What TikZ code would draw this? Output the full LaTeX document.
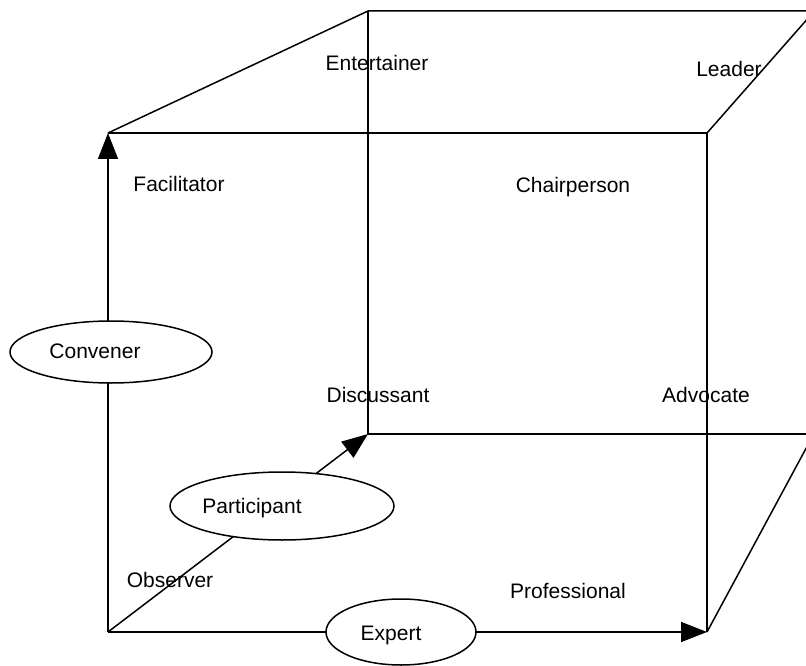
\documentclass[tikz,border=0pt]{standalone}
\usepackage{fontspec}
\setmainfont{Liberation Sans}
\usetikzlibrary{arrows.meta,shapes.geometric}
\begin{document}
\begin{tikzpicture}[x=1pt,y=-1pt,
  edge/.style={line width=1.5pt, line join=miter},
  axis/.style={edge, -{Triangle[length=26pt,width=20pt]}},
  oval/.style={ellipse, draw, line width=1.5pt, fill=white, inner sep=0pt},
  lbl/.style={font=\fontsize{21}{25}\selectfont, inner sep=0pt, anchor=base}]
\useasboundingbox (0,0) rectangle (806,666);

% cube corners
\coordinate (O)   at (108,632);
\coordinate (FTL) at (108,133);
\coordinate (FTR) at (707,133);
\coordinate (FBR) at (707,632);
\coordinate (BTL) at (368,11);
\coordinate (BBL) at (368,434);
\coordinate (BTR) at (810,11);
\coordinate (BBR) at (810,434);
\coordinate (RT)  at (810,16);
\coordinate (RB)  at (810,441);

% cube edges
\draw[edge] (FTL) -- (BTL) -- (BTR);
\draw[edge] (FTL) -- (FTR) -- (FBR);
\draw[edge] (FTR) -- (RT);
\draw[edge] (FBR) -- (RB);
\draw[edge] (BTL) -- (BBL) -- (BBR);

% the three axes
\draw[axis] (O) -- (FTL);
\draw[axis] (O) -- (FBR);
\draw[axis] (O) -- (BBL);

% axis ovals
\node[oval, minimum width=202pt, minimum height=62pt] (conv) at (111,352) {};
\node[oval, minimum width=224pt, minimum height=68pt] (part) at (282,506) {};
\node[oval, minimum width=150pt, minimum height=66pt] (expt) at (401,632) {};
\node[lbl] (convT) at (95,358) {Convener};
\node[lbl] (partT) at (252,513) {Participant};
\node[lbl] (exptT) at (391,640) {Expert};

% role labels
\node[lbl] (ent)  at (377,71)  {Entertainer};
\node[lbl] (lead) at (729,77)  {Leader};
\node[lbl] (fac)  at (179,191) {Facilitator};
\node[lbl] (chair) at (573,192) {Chairperson};
\node[lbl] (disc) at (378,402) {Discussant};
\node[lbl] (adv)  at (706,402) {Advocate};
\node[lbl] (obs)  at (170,587) {Observer};
\node[lbl] (prof) at (568,598) {Professional};
\end{tikzpicture}
\end{document}
